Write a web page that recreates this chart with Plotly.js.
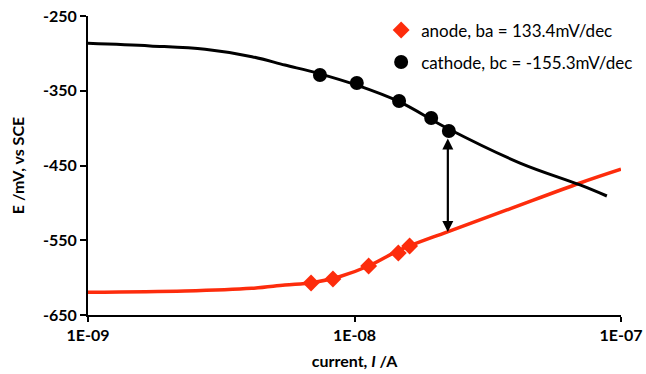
<!DOCTYPE html>
<html>
<head>
<meta charset="utf-8">
<script src="https://cdn.plot.ly/plotly-3.0.1.min.js"></script>
<style>
  html, body { margin: 0; padding: 0; background: #fff; }
  #chart { width: 646px; height: 374px; }
</style>
</head>
<body>
<div id="chart"></div>
<script>
// Polarisation curve: potential vs current (log scale)

// Cathodic branch: fitted curve and measured points
const cathodeFitI = [1e-9, 1.71e-9, 2.75e-9, 4.12e-9, 5.48e-9, 7.3e-9, 1.02e-8, 1.47e-8, 2.22e-8, 4.18e-8, 7.02e-8, 8.85e-8];
const cathodeFitE = [-286.5, -290, -294.5, -304.4, -315.6, -326.7, -342.5, -364.5, -399.8, -446.7, -476, -490.8];
const cathodePtsI = [7.42e-9, 1.02e-8, 1.47e-8, 1.94e-8, 2.26e-8];
const cathodePtsE = [-328.9, -339.6, -363.7, -386.5, -403.8];

// Anodic branch: fitted curve and measured points
const anodeFitI = [1e-9, 2.31e-9, 4.12e-9, 5.48e-9, 6.93e-9, 8.83e-9, 1.14e-8, 1.48e-8, 2.22e-8, 3.73e-8, 7.02e-8, 1e-7];
const anodeFitE = [-619.6, -617.9, -614.3, -609.9, -606.8, -598.5, -583.8, -563, -539, -509.5, -473.4, -455];
const anodePtsI = [6.87e-9, 8.3e-9, 1.13e-8, 1.46e-8, 1.61e-8];
const anodePtsE = [-607.2, -601.8, -584.4, -567.1, -557.7];

// Legend labels with Tafel slopes
const anodeLabel = 'anode, ba = 133.4mV/dec';
const cathodeLabel = 'cathode, bc = -155.3mV/dec';

// Axis ticks
const xTickVals = [1e-9, 1e-8, 1e-7];
const xTickText = ['1E-09', '1E-08', '1E-07'];
const yTickVals = [-650, -550, -450, -350, -250];
const yTickText = ['-650', '-550', '-450', '-350', '-250'];

// Double-headed arrow between the two branches at a fixed current
const gapI = 2.24e-8;
const gapE = [-539, -412];

const RED = '#fd2c0c';
const FONT = 'Lato, "Open Sans", sans-serif';

const traces = [
  {
    x: anodeFitI, y: anodeFitE, type: 'scatter', mode: 'lines',
    line: { color: RED, width: 3.5, shape: 'spline' },
    showlegend: false, hoverinfo: 'skip'
  },
  {
    x: cathodeFitI, y: cathodeFitE, type: 'scatter', mode: 'lines',
    line: { color: '#000', width: 3, shape: 'spline' },
    showlegend: false, hoverinfo: 'skip'
  },
  {
    x: anodePtsI, y: anodePtsE, type: 'scatter', mode: 'markers',
    name: anodeLabel, legendgroup: 'a',
    marker: { symbol: 'diamond', size: 13, color: RED }
  },
  {
    x: cathodePtsI, y: cathodePtsE, type: 'scatter', mode: 'markers',
    name: cathodeLabel, legendgroup: 'c',
    marker: { symbol: 'circle', size: 14, color: '#000' }
  }
];

const layout = {
  width: 646, height: 374,
  margin: { l: 88, r: 25, t: 16, b: 59, autoexpand: false },
  paper_bgcolor: '#fff', plot_bgcolor: '#fff',
  font: { family: FONT, color: '#000' },
  showlegend: true,
  legend: {
    x: 0.55, y: 1.012, xanchor: 'left', yanchor: 'top',
    bgcolor: 'rgba(0,0,0,0)',
    traceorder: 'grouped', tracegroupgap: 7,
    itemwidth: 30,
    font: { family: FONT, size: 17, color: '#000' }
  },
  xaxis: {
    type: 'log', range: [-9, -7],
    tickvals: xTickVals, ticktext: xTickText,
    showline: true, linecolor: '#000', linewidth: 2,
    ticks: 'outside', ticklen: 5, tickwidth: 2, tickcolor: '#000',
    showgrid: false, zeroline: false,
    tickfont: { family: FONT, size: 16, weight: 'bold' },
    title: { text: 'current, <i>I</i> /A', font: { family: FONT, size: 16, weight: 'bold' }, standoff: 13 }
  },
  yaxis: {
    range: [-650, -250],
    tickvals: yTickVals, ticktext: yTickText,
    showline: true, linecolor: '#000', linewidth: 2,
    ticks: 'outside', ticklen: 6, tickwidth: 2, tickcolor: '#000',
    showgrid: false, zeroline: false,
    tickfont: { family: FONT, size: 16, weight: 'bold' },
    title: { text: 'E /mV, vs SCE', font: { family: FONT, size: 16, weight: 'bold' }, standoff: 14 }
  },
  annotations: [
    {
      xref: 'x', yref: 'y', axref: 'x', ayref: 'y',
      x: Math.log10(gapI), y: gapE[0],
      ax: Math.log10(gapI), ay: gapE[1],
      text: '', showarrow: true,
      arrowhead: 2, arrowside: 'end+start', arrowsize: 1, arrowwidth: 2.2,
      arrowcolor: '#000'
    }
  ]
};

Plotly.newPlot('chart', traces, layout, { displayModeBar: false, staticPlot: true });
</script>
</body>
</html>
